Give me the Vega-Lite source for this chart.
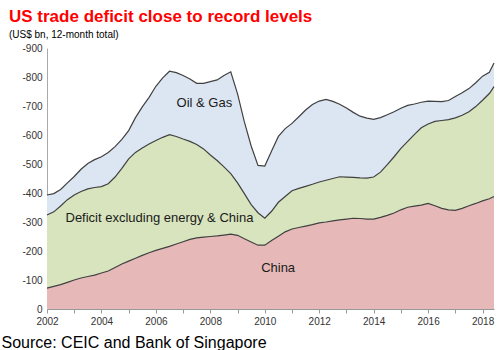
{
  "$schema": "https://vega.github.io/schema/vega-lite/v6.json",
  "autosize": {"type": "none"},
  "width": 447,
  "height": 261,
  "padding": {"left": 47, "top": 48, "right": 6, "bottom": 41},
  "background": "white",
  "config": {"font": "Liberation Sans", "view": {"stroke": null}},
  "title": {
    "text": "US trade deficit close to record levels",
    "subtitle": "(US$ bn, 12-month total)",
    "anchor": "start",
    "frame": "group",
    "dx": -38,
    "fontSize": 17,
    "fontWeight": "bold",
    "color": "#FF0000",
    "subtitleFontSize": 10,
    "subtitleColor": "#000000",
    "subtitlePadding": 4,
    "offset": 2
  },
  "datasets": {
    "deficit": [
      {"year": 2002.00, "china": 72, "excl": 252, "oil": 69},
      {"year": 2002.25, "china": 78, "excl": 257, "oil": 63},
      {"year": 2002.50, "china": 84, "excl": 271, "oil": 57},
      {"year": 2002.75, "china": 92, "excl": 285, "oil": 58},
      {"year": 2003.00, "china": 100, "excl": 293, "oil": 64},
      {"year": 2003.25, "china": 107, "excl": 298, "oil": 77},
      {"year": 2003.50, "china": 112, "excl": 302, "oil": 88},
      {"year": 2003.75, "china": 117, "excl": 302, "oil": 96},
      {"year": 2004.00, "china": 124, "excl": 298, "oil": 103},
      {"year": 2004.25, "china": 131, "excl": 301, "oil": 108},
      {"year": 2004.50, "china": 143, "excl": 312, "oil": 105},
      {"year": 2004.75, "china": 155, "excl": 330, "oil": 100},
      {"year": 2005.00, "china": 165, "excl": 353, "oil": 97},
      {"year": 2005.25, "china": 175, "excl": 365, "oil": 120},
      {"year": 2005.50, "china": 185, "excl": 370, "oil": 142},
      {"year": 2005.75, "china": 194, "excl": 375, "oil": 161},
      {"year": 2006.00, "china": 202, "excl": 379, "oil": 187},
      {"year": 2006.25, "china": 209, "excl": 383, "oil": 205},
      {"year": 2006.50, "china": 216, "excl": 385, "oil": 219},
      {"year": 2006.75, "china": 224, "excl": 371, "oil": 220},
      {"year": 2007.00, "china": 232, "excl": 354, "oil": 219},
      {"year": 2007.25, "china": 240, "excl": 338, "oil": 215},
      {"year": 2007.50, "china": 245, "excl": 322, "oil": 211},
      {"year": 2007.75, "china": 248, "excl": 304, "oil": 226},
      {"year": 2008.00, "china": 250, "excl": 281, "oil": 253},
      {"year": 2008.25, "china": 252, "excl": 260, "oil": 278},
      {"year": 2008.50, "china": 255, "excl": 235, "oil": 315},
      {"year": 2008.75, "china": 258, "excl": 209, "oil": 351},
      {"year": 2009.00, "china": 254, "excl": 181, "oil": 307},
      {"year": 2009.25, "china": 242, "excl": 156, "oil": 247},
      {"year": 2009.50, "china": 231, "excl": 129, "oil": 202},
      {"year": 2009.75, "china": 220, "excl": 112, "oil": 163},
      {"year": 2010.00, "china": 220, "excl": 93, "oil": 180},
      {"year": 2010.25, "china": 236, "excl": 101, "oil": 208},
      {"year": 2010.50, "china": 251, "excl": 117, "oil": 227},
      {"year": 2010.75, "china": 266, "excl": 122, "oil": 234},
      {"year": 2011.00, "china": 276, "excl": 132, "oil": 232},
      {"year": 2011.25, "china": 281, "excl": 135, "oil": 247},
      {"year": 2011.50, "china": 286, "excl": 137, "oil": 263},
      {"year": 2011.75, "china": 291, "excl": 139, "oil": 275},
      {"year": 2012.00, "china": 297, "excl": 141, "oil": 279},
      {"year": 2012.25, "china": 300, "excl": 144, "oil": 279},
      {"year": 2012.50, "china": 304, "excl": 146, "oil": 266},
      {"year": 2012.75, "china": 307, "excl": 149, "oil": 250},
      {"year": 2013.00, "china": 310, "excl": 145, "oil": 238},
      {"year": 2013.25, "china": 313, "excl": 141, "oil": 224},
      {"year": 2013.50, "china": 312, "excl": 140, "oil": 213},
      {"year": 2013.75, "china": 310, "excl": 141, "oil": 207},
      {"year": 2014.00, "china": 310, "excl": 145, "oil": 199},
      {"year": 2014.25, "china": 316, "excl": 156, "oil": 188},
      {"year": 2014.50, "china": 323, "excl": 175, "oil": 172},
      {"year": 2014.75, "china": 331, "excl": 194, "oil": 155},
      {"year": 2015.00, "china": 342, "excl": 212, "oil": 138},
      {"year": 2015.25, "china": 351, "excl": 227, "oil": 124},
      {"year": 2015.50, "china": 355, "excl": 247, "oil": 105},
      {"year": 2015.75, "china": 358, "excl": 267, "oil": 88},
      {"year": 2016.00, "china": 364, "excl": 274, "oil": 79},
      {"year": 2016.25, "china": 356, "excl": 291, "oil": 69},
      {"year": 2016.50, "china": 347, "excl": 303, "oil": 65},
      {"year": 2016.75, "china": 342, "excl": 311, "oil": 66},
      {"year": 2017.00, "china": 340, "excl": 319, "oil": 74},
      {"year": 2017.25, "china": 347, "excl": 321, "oil": 78},
      {"year": 2017.50, "china": 356, "excl": 324, "oil": 80},
      {"year": 2017.75, "china": 364, "excl": 334, "oil": 82},
      {"year": 2018.00, "china": 373, "excl": 347, "oil": 83},
      {"year": 2018.25, "china": 380, "excl": 363, "oil": 73},
      {"year": 2018.42, "china": 388, "excl": 379, "oil": 81}
    ],
    "labels": [
      {"year": 2007.78, "bn": 709, "label": "Oil & Gas"},
      {"year": 2006.13, "bn": 313, "label": "Deficit excluding energy & China"},
      {"year": 2010.49, "bn": 140, "label": "China"}
    ]
  },
  "layer": [
    {
      "data": {"name": "deficit"},
      "transform": [{"fold": ["china", "excl", "oil"], "as": ["series", "bn"]}],
      "mark": {"type": "area", "opacity": 1},
      "encoding": {
        "x": {
          "field": "year",
          "type": "quantitative",
          "scale": {"domain": [2002, 2018.42], "nice": false, "zero": false},
          "axis": {
            "title": "Source: CEIC and Bank of Singapore",
            "titleFontSize": 16,
            "titleFontWeight": "normal",
            "titleColor": "#000000",
            "titleAnchor": "start",
            "titleAlign": "left",
            "titleBaseline": "alphabetic",
            "titleX": -46,
            "titleY": 38,
            "values": [2002, 2003, 2004, 2005, 2006, 2007, 2008, 2009, 2010, 2011, 2012, 2013, 2014, 2015, 2016, 2017, 2018],
            "labelExpr": "datum.value % 2 == 0 ? datum.label : ''",
            "format": "d",
            "grid": false,
            "domainColor": "#999999",
            "tickColor": "#999999",
            "tickSize": 4,
            "labelPadding": 3,
            "labelFontSize": 10,
            "labelColor": "#333333",
            "labelFlush": false,
            "labelOverlap": false
          }
        },
        "y": {
          "field": "bn",
          "type": "quantitative",
          "stack": "zero",
          "scale": {"domain": [0, 900], "nice": false},
          "axis": {
            "title": null,
            "values": [0, 100, 200, 300, 400, 500, 600, 700, 800, 900],
            "labelExpr": "datum.value == 0 ? '0' : '-' + datum.label",
            "grid": false,
            "ticks": false,
            "labelPadding": 5,
            "domainColor": "#AAAAAA",
            "labelFontSize": 10,
            "labelColor": "#333333",
            "labelFlush": false,
            "labelOverlap": false
          }
        },
        "color": {
          "field": "series",
          "type": "nominal",
          "scale": {"domain": ["china", "excl", "oil"], "range": ["#E6B9B8", "#D7E4BD", "#DCE6F2"]},
          "legend": null
        },
        "order": {"field": "series", "sort": "ascending"}
      }
    },
    {
      "data": {"name": "deficit"},
      "transform": [{"fold": ["china", "excl", "oil"], "as": ["series", "bn"]}],
      "mark": {"type": "line", "color": "#404040", "strokeWidth": 1.2},
      "encoding": {
        "x": {
          "field": "year",
          "type": "quantitative",
          "axis": {
            "title": "Source: CEIC and Bank of Singapore",
            "titleFontSize": 16,
            "titleFontWeight": "normal",
            "titleColor": "#000000",
            "titleAnchor": "start",
            "titleAlign": "left",
            "titleBaseline": "alphabetic",
            "titleX": -46,
            "titleY": 38,
            "values": [2002, 2003, 2004, 2005, 2006, 2007, 2008, 2009, 2010, 2011, 2012, 2013, 2014, 2015, 2016, 2017, 2018],
            "labelExpr": "datum.value % 2 == 0 ? datum.label : ''",
            "format": "d",
            "grid": false,
            "domainColor": "#999999",
            "tickColor": "#999999",
            "tickSize": 4,
            "labelPadding": 3,
            "labelFontSize": 10,
            "labelColor": "#333333",
            "labelFlush": false,
            "labelOverlap": false
          }
        },
        "y": {
          "field": "bn",
          "type": "quantitative",
          "stack": "zero",
          "axis": {
            "title": null,
            "values": [0, 100, 200, 300, 400, 500, 600, 700, 800, 900],
            "labelExpr": "datum.value == 0 ? '0' : '-' + datum.label",
            "grid": false,
            "ticks": false,
            "labelPadding": 5,
            "domainColor": "#AAAAAA",
            "labelFontSize": 10,
            "labelColor": "#333333",
            "labelFlush": false,
            "labelOverlap": false
          }
        },
        "detail": {"field": "series", "type": "nominal"},
        "order": {"field": "series", "sort": "ascending"}
      }
    },
    {
      "data": {"name": "labels"},
      "mark": {"type": "text", "fontSize": 13, "color": "#1A1A1A", "align": "center", "baseline": "middle"},
      "encoding": {
        "x": {
          "field": "year",
          "type": "quantitative",
          "axis": {
            "title": "Source: CEIC and Bank of Singapore",
            "titleFontSize": 16,
            "titleFontWeight": "normal",
            "titleColor": "#000000",
            "titleAnchor": "start",
            "titleAlign": "left",
            "titleBaseline": "alphabetic",
            "titleX": -46,
            "titleY": 38,
            "values": [2002, 2003, 2004, 2005, 2006, 2007, 2008, 2009, 2010, 2011, 2012, 2013, 2014, 2015, 2016, 2017, 2018],
            "labelExpr": "datum.value % 2 == 0 ? datum.label : ''",
            "format": "d",
            "grid": false,
            "domainColor": "#999999",
            "tickColor": "#999999",
            "tickSize": 4,
            "labelPadding": 3,
            "labelFontSize": 10,
            "labelColor": "#333333",
            "labelFlush": false,
            "labelOverlap": false
          }
        },
        "y": {
          "field": "bn",
          "type": "quantitative",
          "axis": {
            "title": null,
            "values": [0, 100, 200, 300, 400, 500, 600, 700, 800, 900],
            "labelExpr": "datum.value == 0 ? '0' : '-' + datum.label",
            "grid": false,
            "ticks": false,
            "labelPadding": 5,
            "domainColor": "#AAAAAA",
            "labelFontSize": 10,
            "labelColor": "#333333",
            "labelFlush": false,
            "labelOverlap": false
          }
        },
        "text": {"field": "label"}
      }
    }
  ]
}
